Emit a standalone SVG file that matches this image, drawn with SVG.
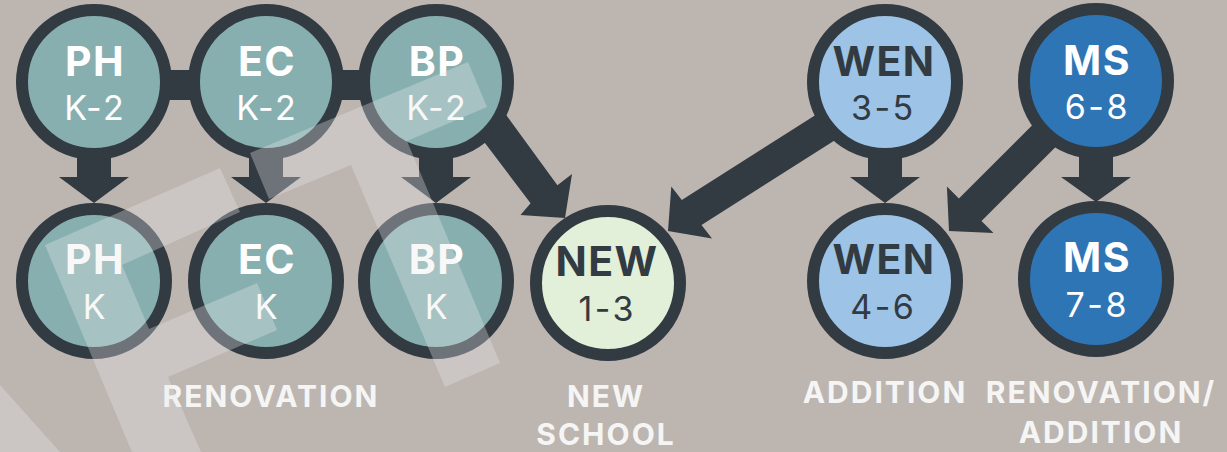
<svg xmlns="http://www.w3.org/2000/svg" width="1227" height="452" viewBox="0 0 1227 452">
<defs>
<style>
.ring{stroke:#323a42;stroke-width:12}
.teal{fill:#87afaf}
.green{fill:#e2efd9}
.lblue{fill:#9dc3e6}
.dblue{fill:#2e75b6}
.t{font-family:Inter,"Liberation Sans",sans-serif;font-weight:700;font-size:41px;letter-spacing:1.5px;text-anchor:middle}
.s{font-family:Inter,"Liberation Sans",sans-serif;font-weight:400;font-size:34px;letter-spacing:2.5px;text-anchor:middle}
.w{fill:#ffffff}
.d{fill:#323a42}
.lab{font-family:Inter,"Liberation Sans",sans-serif;font-weight:700;font-size:30px;letter-spacing:2px;text-anchor:middle;fill:#f5f5f5}
.conn{fill:#323a42}
.wm{fill:#ebebeb;opacity:0.32}
</style>
</defs>
<rect width="1227" height="452" fill="#bdb5b0"/>
<g id="connectors" class="conn">
<rect x="94" y="70" width="342" height="30"/>
<polygon points="77,150 111,150 111,177 129,177 94,203 59,177 77,177"/>
<polygon points="249,150 283,150 283,177 301,177 266,203 231,177 249,177"/>
<polygon points="419,150 453,150 453,177 471,177 436,203 401,177 419,177"/>
<polygon points="868,150 902,150 902,177 920,177 885,203 850,177 868,177"/>
<polygon points="1079,150 1113,150 1113,177 1131,177 1096,202 1061,177 1079,177"/>
<path d="M446.3,92 L473.1,69.7 L557.4,185.3 L572,174 L565,218 L520.5,215 L530.6,203.3 Z"/>
<path d="M859.7,87.1 L879.4,111.9 L701.5,225.1 L712,238.5 L668,231 L671.3,186.5 L681.8,199.9 Z"/>
<path d="M1079.1,78.3 L1101.7,100.9 L981.5,221.1 L993.5,233.1 L949,231 L946.9,186.5 L958.9,198.5 Z"/>
</g>
<g id="node-ph-top"><circle class="ring teal" cx="94" cy="82" r="72"/><text class="t w" x="95" y="76">PH</text><text class="s w" x="95.3" y="120">K-2</text></g>
<g id="node-ec-top"><circle class="ring teal" cx="266" cy="82" r="72"/><text class="t w" x="267" y="76">EC</text><text class="s w" x="267.3" y="120">K-2</text></g>
<g id="node-bp-top"><circle class="ring teal" cx="436" cy="82" r="72"/><text class="t w" x="437" y="76">BP</text><text class="s w" x="437.3" y="120">K-2</text></g>
<g id="node-wen-top"><circle class="ring lblue" cx="885" cy="82" r="72"/><text class="t d" x="884" y="76">WEN</text><text class="s d" x="883.3" y="120">3-5</text></g>
<g id="node-ms-top"><circle class="ring dblue" cx="1096" cy="81" r="72"/><text class="t w" x="1097" y="75">MS</text><text class="s w" x="1097.3" y="119">6-8</text></g>
<g id="node-ph-bottom"><circle class="ring teal" cx="94" cy="281" r="72"/><text class="t w" x="95" y="274">PH</text><text class="s w" x="95.3" y="319">K</text></g>
<g id="node-ec-bottom"><circle class="ring teal" cx="266" cy="281" r="72"/><text class="t w" x="267" y="274">EC</text><text class="s w" x="267.3" y="319">K</text></g>
<g id="node-bp-bottom"><circle class="ring teal" cx="436" cy="281" r="72"/><text class="t w" x="437" y="274">BP</text><text class="s w" x="437.3" y="319">K</text></g>
<g id="node-new"><circle class="ring green" cx="608" cy="283" r="72"/><text class="t d" x="607" y="276">NEW</text><text class="s d" x="607.3" y="321">1-3</text></g>
<g id="node-wen-bottom"><circle class="ring lblue" cx="885" cy="281" r="72"/><text class="t d" x="884" y="274">WEN</text><text class="s d" x="883.3" y="319">4-6</text></g>
<g id="node-ms-bottom"><circle class="ring dblue" cx="1096" cy="279" r="72"/><text class="t w" x="1097" y="272">MS</text><text class="s w" x="1097.3" y="317">7-8</text></g>
<g id="labels">
<text class="lab" x="271" y="407">RENOVATION</text>
<text class="lab" x="606" y="407">NEW</text>
<text class="lab" x="606" y="445">SCHOOL</text>
<text class="lab" x="885" y="403">ADDITION</text>
<text class="lab" x="1101" y="403">RENOVATION/</text>
<text class="lab" x="1101" y="443">ADDITION</text>
</g>
<g id="watermark" class="wm">
<path d="M45,245 L220,168 L240,212 L122,265 L149,329 L257,283 L277,330 L168,377 L201,452 L132,452 Z"/>
<path d="M250,153 L468,62 L487,107 L407,141 L500,363 L445,387 L351,165 L269,199 Z"/>
<path d="M0,385 L60,452 L0,452 Z"/>
</g>
</svg>
